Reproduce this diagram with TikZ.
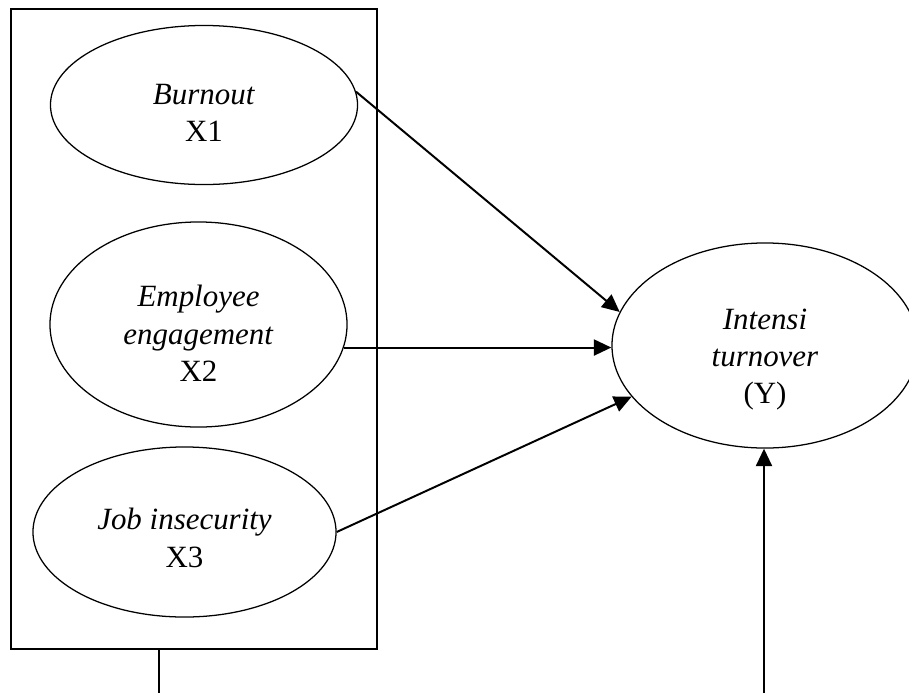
\documentclass[tikz,border=0pt]{standalone}
\usepackage{fontspec}
\setmainfont{Liberation Serif}
\usepackage{tikz}
\usetikzlibrary{arrows.meta,positioning,shapes.geometric,calc}

\begin{document}
\begin{tikzpicture}[
x=0.025cm, y=-0.025cm,
var/.style={
	ellipse,
	draw,
	line width=0.9pt,
	inner sep=0pt
},
	lbl/.style={
	align=center,
	inner sep=0pt,
	font=\fontsize{22}{26.5}\selectfont
},
	group/.style={
	draw,
	line width=1pt,
	inner sep=0pt,
	minimum width=9.15cm,
	minimum height=16cm
},
	arr/.style={
	-{Triangle[length=12.5pt,width=11.5pt]},
	line width=1.4pt
},
]

\useasboundingbox (0,0) rectangle (909,693);

\node[group] (X) at (194,329) {};

\node[var, minimum width=7.675cm, minimum height=3.975cm,
	label={[lbl, yshift=-0.2cm]center:\textit{Burnout}\\X1}] (burnout) at (204,105) {};
\node[var, minimum width=7.425cm, minimum height=5.125cm,
	label={[lbl, yshift=-0.22cm]center:\textit{Employee}\\\textit{engagement}\\X2}] (engage) at (198.5,324.5) {};
\node[var, minimum width=7.575cm, minimum height=4.25cm,
	label={[lbl, yshift=-0.15cm]center:\textit{Job insecurity}\\X3}] (insecure) at (184.5,532) {};

\node[var, minimum width=7.65cm, minimum height=5.125cm,
	label={[lbl, yshift=-0.35cm]center:\textit{Intensi}\\\textit{turnover}\\(Y)}] (turnover) at (765,345.5) {};

\coordinate (Xout) at (159,693);
\coordinate (Yin) at (764,693);

%\draw[arr] (X.east) to (turnover.west);

\draw[arr] (burnout.5) to (turnover.167);
\draw[arr] (engage.-9) to (engage.-9 -| turnover.west);
\draw[arr] (insecure.east) to (turnover.201);

\draw[line width=1.4pt] (X.south -| Xout) to (Xout);
\draw[arr] (Yin) to (Yin |- turnover.south);

\end{tikzpicture}
\end{document}
